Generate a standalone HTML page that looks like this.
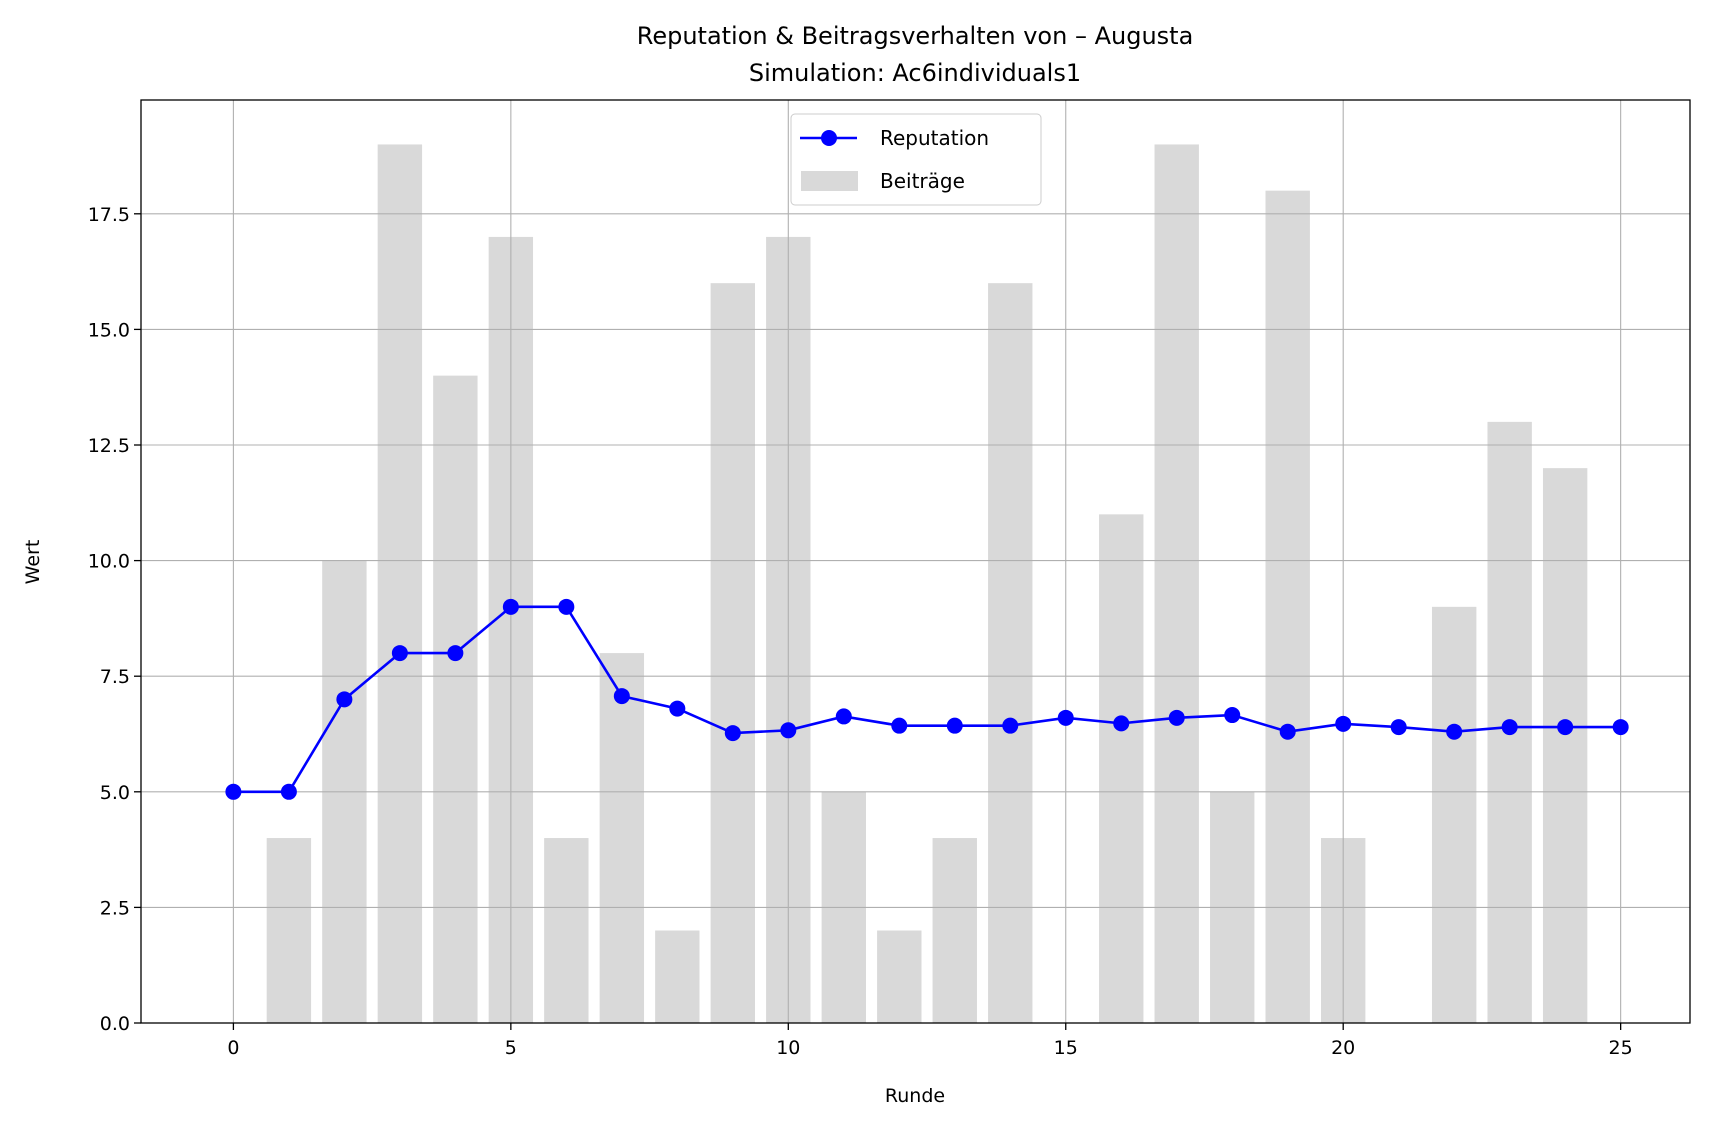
<!DOCTYPE html>
<html><head><meta charset="utf-8"><style>
html,body{margin:0;padding:0;background:#fff;}
svg{display:block;font-family:"DejaVu Sans","Liberation Sans",sans-serif;}
</style></head><body>
<svg id="chart" width="1710" height="1131" viewBox="0 0 1710 1131">
<rect x="0" y="0" width="1710" height="1131" fill="#fff"/>
<text x="915" y="44" font-size="24" text-anchor="middle">Reputation &amp; Beitragsverhalten von – Augusta</text>
<text x="915" y="81" font-size="24" text-anchor="middle">Simulation: Ac6individuals1</text>
<g id="bars"></g><g id="grid"></g><g id="line"></g><g id="axes"></g>
<text x="915" y="1102" font-size="19" text-anchor="middle">Runde</text>
<text transform="translate(39,562) rotate(-90)" font-size="19" text-anchor="middle">Wert</text>
<g>
<rect x="791" y="114" width="250" height="91" rx="4" fill="#fff" fill-opacity="0.8" stroke="#ccc"/>
<line x1="800" y1="138" x2="857" y2="138" stroke="#0000ff" stroke-width="2.5"/>
<circle cx="829" cy="138" r="8" fill="#0000ff"/>
<text x="880" y="145" font-size="20">Reputation</text>
<rect x="801" y="171" width="57" height="20" fill="#d9d9d9"/>
<text x="880" y="188" font-size="20">Beiträge</text>
</g>
</svg>
<script>
const rounds=[0,1,2,3,4,5,6,7,8,9,10,11,12,13,14,15,16,17,18,19,20,21,22,23,24,25];
const reputation=[5,5,7,8,8,9,9,7.07,6.8,6.27,6.33,6.63,6.43,6.43,6.43,6.6,6.48,6.6,6.66,6.3,6.47,6.4,6.3,6.4,6.4,6.4];
const contributions=[0,4,10,19,14,17,4,8,2,16,17,5,2,4,16,0,11,19,5,18,4,0,9,13,12,0];
const xTicks=[0,5,10,15,20,25];
const yTicks=[0,2.5,5,7.5,10,12.5,15,17.5];
const yTickLabels=["0.0","2.5","5.0","7.5","10.0","12.5","15.0","17.5"];
const L=141,R=1690,T=100,B=1023;
const X0=233.4,XS=55.49,YS=46.24;
const xs=v=>X0+v*XS, ys=v=>B-v*YS;
const NS="http://www.w3.org/2000/svg";
function mk(tag,attrs,parent){const e=document.createElementNS(NS,tag);for(const k in attrs)e.setAttribute(k,attrs[k]);document.getElementById(parent).appendChild(e);return e;}
contributions.forEach((c,i)=>{if(c<=0)return;
 const r=mk('rect',{x:xs(rounds[i]-0.4),y:ys(c),width:0.8*XS,height:c*YS,fill:'#d9d9d9'},'bars');
 
 });
xTicks.forEach(t=>{const l=mk('line',{x1:xs(t),x2:xs(t),y1:T,y2:B,stroke:'#b0b0b0','stroke-width':1.1},'grid');
 
 });
yTicks.forEach(t=>{if(t===0)return;const l=mk('line',{x1:L,x2:R,y1:ys(t),y2:ys(t),stroke:'#b0b0b0','stroke-width':1.1},'grid');
 
 });
const pl=mk('polyline',{points:rounds.map((r,i)=>xs(r)+','+ys(reputation[i])).join(' '),fill:'none',stroke:'#0000ff','stroke-width':2.6},'line');


rounds.forEach((r,i)=>{const c=mk('circle',{cx:xs(r),cy:ys(reputation[i]),r:8,fill:'#0000ff'},'line');
 
 });
const fr=mk('rect',{x:L,y:T,width:R-L,height:B-T,fill:'none',stroke:'#000','stroke-width':1.3},'axes');


xTicks.forEach(t=>{mk('line',{x1:xs(t),x2:xs(t),y1:B,y2:B+7,stroke:'#000','stroke-width':1.3},'axes');
 const tx=mk('text',{x:xs(t),y:B+31,'font-size':19,'text-anchor':'middle'},'axes');tx.textContent=t;
 
 });
yTicks.forEach((t,i)=>{mk('line',{x1:L-7,x2:L,y1:ys(t),y2:ys(t),stroke:'#000','stroke-width':1.3},'axes');
 const tx=mk('text',{x:L-11,y:ys(t)+7,'font-size':19,'text-anchor':'end'},'axes');tx.textContent=yTickLabels[i];
 
 });
</script>
</body></html>
